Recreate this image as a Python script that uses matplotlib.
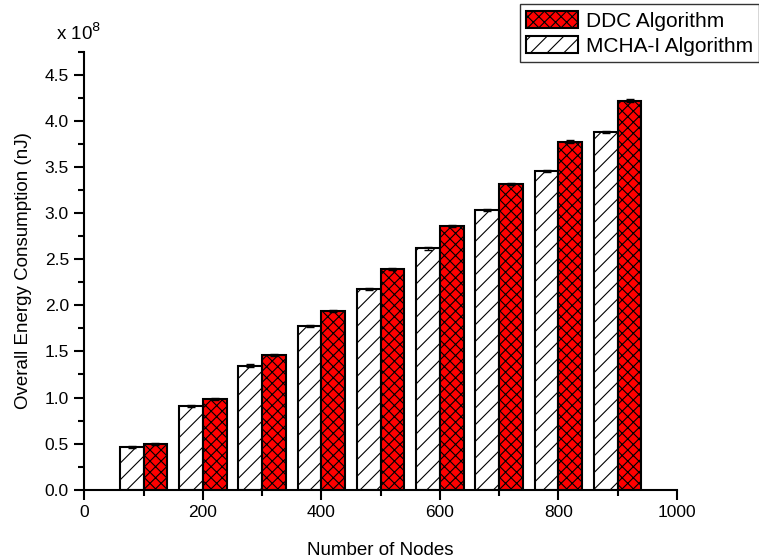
#!/usr/bin/env python3

import numpy as np
import matplotlib
matplotlib.use('Agg')
import matplotlib.pyplot as plt
from matplotlib.ticker import MultipleLocator

plt.rcParams['font.family'] = ['Liberation Sans', 'DejaVu Sans']
plt.rcParams['hatch.linewidth'] = 0.8

#values (in units of 1e8 nJ)
nodes = np.array([100, 200, 300, 400, 500, 600, 700, 800, 900])
mcha = [0.46, 0.905, 1.345, 1.78, 2.18, 2.62, 3.03, 3.455, 3.88]
ddc = [0.50, 0.98, 1.465, 1.94, 2.395, 2.86, 3.32, 3.775, 4.22]
mcha_err = [0.01, 0.01, 0.015, 0.01, 0.01, 0.015, 0.01, 0.01, 0.01]
ddc_err = [0.01, 0.01, 0.01, 0.01, 0.01, 0.01, 0.01, 0.015, 0.015]

fig = plt.figure(figsize=(7.59, 5.6), dpi=100)
ax = fig.add_axes([0.111, 0.1255, 0.781, 0.782])

width = 40
b2 = ax.bar(nodes - width/2, mcha, width, color='white', edgecolor='black',
            linewidth=1.5, hatch='//', label='MCHA-I Algorithm',
            yerr=mcha_err, capsize=3, error_kw={'elinewidth': 1, 'capthick': 1})
b1 = ax.bar(nodes + width/2, ddc, width, color='red', edgecolor='black',
            linewidth=1.5, hatch='xxx', label='DDC Algorithm',
            yerr=ddc_err, capsize=3, error_kw={'elinewidth': 1, 'capthick': 1})

ax.set_xlim(0, 1000)
ax.set_ylim(0, 4.75)
ax.xaxis.set_major_locator(MultipleLocator(200))
ax.xaxis.set_minor_locator(MultipleLocator(100))
ax.yaxis.set_major_locator(MultipleLocator(0.5))
ax.yaxis.set_minor_locator(MultipleLocator(0.25))
ax.yaxis.set_major_formatter(matplotlib.ticker.FormatStrFormatter('%.1f'))

for s in ['top', 'right']:
    ax.spines[s].set_visible(False)
for s in ['left', 'bottom']:
    ax.spines[s].set_linewidth(1.5)
ax.tick_params(which='major', direction='out', length=7, width=1.5,
               labelsize=12.5, pad=4)
ax.tick_params(which='minor', direction='out', length=4, width=1.5)

ax.set_xlabel('Number of Nodes', fontsize=13.5, labelpad=16)
ax.set_ylabel('Overall Energy Consumption (nJ)', fontsize=13.5, labelpad=9)
fig.text(0.074, 0.928, r'x 10$^8$', fontsize=13.5, va='baseline')

leg = fig.legend([b1, b2], ['DDC Algorithm', 'MCHA-I Algorithm'],
                 loc='upper right', bbox_to_anchor=(1.0, 0.992),
                 fancybox=False, edgecolor='black', fontsize=15,
                 handlelength=2.5, handleheight=0.9, borderpad=0.3,
                 labelspacing=0.25, handletextpad=0.35, borderaxespad=0.0)
leg.get_frame().set_linewidth(1.0)

fig.savefig('out.png', dpi=100)
